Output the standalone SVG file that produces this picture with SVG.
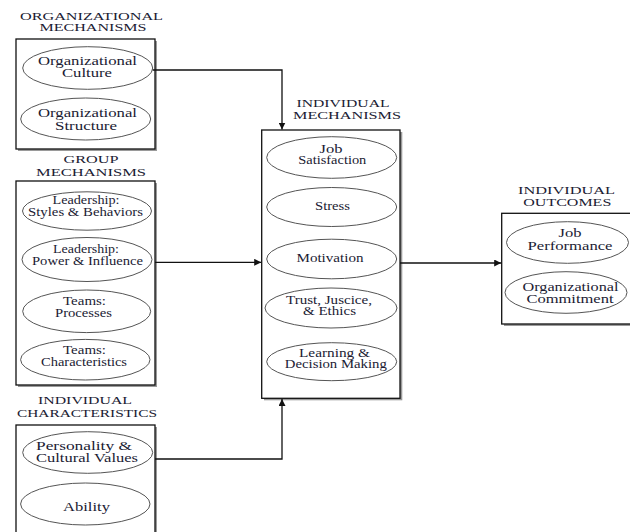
<svg xmlns="http://www.w3.org/2000/svg" width="630" height="532" viewBox="0 0 630 532">
<defs>
<style>
.bg{fill:#ffffff}
.box{fill:#ffffff;stroke:#111;stroke-width:1.3}
.shadow{fill:#9a9a9a}
.el{fill:#ffffff;stroke:#555;stroke-width:1}
.hd{font-family:"Liberation Serif","Times New Roman",serif;font-size:10.5px;fill:#1b1b33;text-anchor:middle}
.tx{font-family:"Liberation Serif","Times New Roman",serif;font-size:11.5px;fill:#1b1b33;text-anchor:middle}
.con{fill:none;stroke:#111;stroke-width:1.3}
</style>
<marker id="arr" viewBox="0 0 10 10" refX="10" refY="5" markerWidth="7" markerHeight="7" markerUnits="userSpaceOnUse" orient="auto">
<path d="M0,0 L10,5 L0,10 z" fill="#111"/>
</marker>
</defs>
<rect class="bg" x="0" y="0" width="630" height="532"/>

<g id="org-mechanisms">
<text class="hd" x="91.5" y="19.5" textLength="143" lengthAdjust="spacingAndGlyphs">ORGANIZATIONAL</text>
<text class="hd" x="93" y="30.7" textLength="107" lengthAdjust="spacingAndGlyphs">MECHANISMS</text>
<rect class="shadow" x="18" y="41" width="139" height="110"/>
<rect class="box" x="16" y="39" width="139" height="110"/>
<g id="org-culture">
<ellipse class="el" cx="87.7" cy="68" rx="65" ry="21.3"/>
<text class="tx" x="87.5" y="65" textLength="99" lengthAdjust="spacingAndGlyphs">Organizational</text>
<text class="tx" x="87" y="77" textLength="50" lengthAdjust="spacingAndGlyphs">Culture</text>
</g>
<g id="org-structure">
<ellipse class="el" cx="85.7" cy="119" rx="65" ry="21"/>
<text class="tx" x="87.5" y="117" textLength="99" lengthAdjust="spacingAndGlyphs">Organizational</text>
<text class="tx" x="86" y="130" textLength="62" lengthAdjust="spacingAndGlyphs">Structure</text>
</g>
</g>

<g id="group-mechanisms">
<text class="hd" x="91" y="163" textLength="55" lengthAdjust="spacingAndGlyphs">GROUP</text>
<text class="hd" x="91" y="176" textLength="110" lengthAdjust="spacingAndGlyphs">MECHANISMS</text>
<rect class="shadow" x="18" y="183" width="139" height="204"/>
<rect class="box" x="16" y="181" width="139" height="204"/>
<g id="lead-styles">
<ellipse class="el" cx="87" cy="211" rx="64.5" ry="19.2"/>
<text class="tx" x="86" y="204" textLength="67" lengthAdjust="spacingAndGlyphs">Leadership:</text>
<text class="tx" x="85.5" y="215.5" textLength="115" lengthAdjust="spacingAndGlyphs">Styles &amp; Behaviors</text>
</g>
<g id="lead-power">
<ellipse class="el" cx="87" cy="259.5" rx="65" ry="22"/>
<text class="tx" x="86" y="252.7" textLength="66" lengthAdjust="spacingAndGlyphs">Leadership:</text>
<text class="tx" x="87.5" y="264.5" textLength="111" lengthAdjust="spacingAndGlyphs">Power &amp; Influence</text>
</g>
<g id="teams-processes">
<ellipse class="el" cx="86.7" cy="311.3" rx="64" ry="21.3"/>
<text class="tx" x="84.5" y="305" textLength="43" lengthAdjust="spacingAndGlyphs">Teams:</text>
<text class="tx" x="83.5" y="316.5" textLength="57" lengthAdjust="spacingAndGlyphs">Processes</text>
</g>
<g id="teams-characteristics">
<ellipse class="el" cx="85.3" cy="359.7" rx="64.7" ry="20.3"/>
<text class="tx" x="84.5" y="354" textLength="43" lengthAdjust="spacingAndGlyphs">Teams:</text>
<text class="tx" x="84" y="365.5" textLength="86" lengthAdjust="spacingAndGlyphs">Characteristics</text>
</g>
</g>

<g id="individual-characteristics">
<text class="hd" x="85" y="404" textLength="94" lengthAdjust="spacingAndGlyphs">INDIVIDUAL</text>
<text class="hd" x="87" y="416.5" textLength="140" lengthAdjust="spacingAndGlyphs">CHARACTERISTICS</text>
<rect class="shadow" x="18" y="427" width="139" height="120"/>
<rect class="box" x="16" y="425" width="139" height="120"/>
<g id="personality">
<ellipse class="el" cx="87.7" cy="452.5" rx="65" ry="20.8"/>
<text class="tx" x="84" y="450" textLength="96" lengthAdjust="spacingAndGlyphs">Personality &amp;</text>
<text class="tx" x="87" y="461.7" textLength="102" lengthAdjust="spacingAndGlyphs">Cultural Values</text>
</g>
<g id="ability">
<ellipse class="el" cx="85.3" cy="504" rx="64.7" ry="21"/>
<text class="tx" x="86.5" y="510.5" textLength="47" lengthAdjust="spacingAndGlyphs">Ability</text>
</g>
</g>

<g id="individual-mechanisms">
<text class="hd" x="343" y="106.5" textLength="93" lengthAdjust="spacingAndGlyphs">INDIVIDUAL</text>
<text class="hd" x="347" y="118.5" textLength="108" lengthAdjust="spacingAndGlyphs">MECHANISMS</text>
<rect class="shadow" x="264" y="132" width="138.3" height="268.3"/>
<rect class="box" x="261.7" y="130" width="138.3" height="268.3"/>
<g id="job-satisfaction">
<ellipse class="el" cx="331.7" cy="157.5" rx="65" ry="20.8"/>
<text class="tx" x="331" y="152.7" textLength="23" lengthAdjust="spacingAndGlyphs">Job</text>
<text class="tx" x="332.3" y="163.5" textLength="68" lengthAdjust="spacingAndGlyphs">Satisfaction</text>
</g>
<g id="stress">
<ellipse class="el" cx="331.7" cy="207" rx="65" ry="19.5"/>
<text class="tx" x="332.5" y="209.5" textLength="35" lengthAdjust="spacingAndGlyphs">Stress</text>
</g>
<g id="motivation">
<ellipse class="el" cx="331.7" cy="259" rx="65" ry="19.8"/>
<text class="tx" x="330" y="261.7" textLength="67" lengthAdjust="spacingAndGlyphs">Motivation</text>
</g>
<g id="trust">
<ellipse class="el" cx="331" cy="308" rx="66" ry="20"/>
<text class="tx" x="329" y="304" textLength="86" lengthAdjust="spacingAndGlyphs">Trust, Juscice,</text>
<text class="tx" x="329.5" y="315" textLength="53" lengthAdjust="spacingAndGlyphs">&amp; Ethics</text>
</g>
<g id="learning">
<ellipse class="el" cx="331.7" cy="361.7" rx="65" ry="19"/>
<text class="tx" x="334.5" y="356.7" textLength="71" lengthAdjust="spacingAndGlyphs">Learning &amp;</text>
<text class="tx" x="335.8" y="367.5" textLength="102" lengthAdjust="spacingAndGlyphs">Decision Making</text>
</g>
</g>

<g id="individual-outcomes">
<text class="hd" x="566.5" y="193.5" textLength="97" lengthAdjust="spacingAndGlyphs">INDIVIDUAL</text>
<text class="hd" x="567.3" y="205.5" textLength="88" lengthAdjust="spacingAndGlyphs">OUTCOMES</text>
<rect class="shadow" x="504" y="215.3" width="140" height="110.7"/>
<rect class="box" x="501.7" y="213.3" width="140" height="110.7"/>
<g id="job-performance">
<ellipse class="el" cx="567.5" cy="242.5" rx="61" ry="20.8"/>
<text class="tx" x="570" y="237.3" textLength="23" lengthAdjust="spacingAndGlyphs">Job</text>
<text class="tx" x="570" y="250" textLength="85" lengthAdjust="spacingAndGlyphs">Performance</text>
</g>
<g id="org-commitment">
<ellipse class="el" cx="566" cy="292.5" rx="61" ry="20.8"/>
<text class="tx" x="570.5" y="290.7" textLength="96" lengthAdjust="spacingAndGlyphs">Organizational</text>
<text class="tx" x="570" y="303.3" textLength="87" lengthAdjust="spacingAndGlyphs">Commitment</text>
</g>
</g>

<g id="connectors">
<path class="con" d="M152.7,70 H282 V129.5" marker-end="url(#arr)"/>
<path class="con" d="M155,262.3 H261.2" marker-end="url(#arr)"/>
<path class="con" d="M400,263 H501.2" marker-end="url(#arr)"/>
<path class="con" d="M155,459 H282 V399" marker-end="url(#arr)"/>
</g>
</svg>
